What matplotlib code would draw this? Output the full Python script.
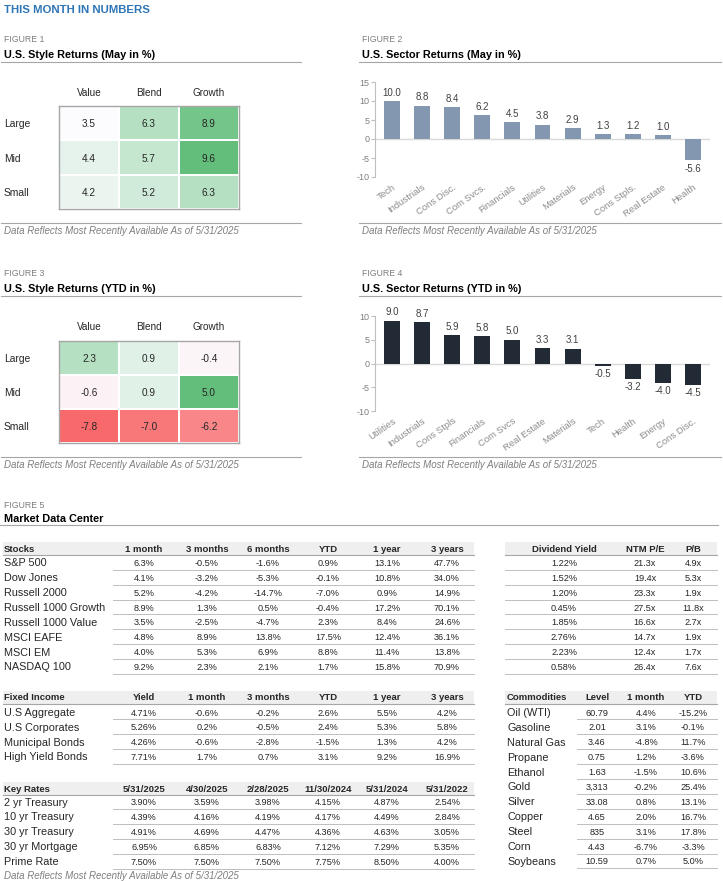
import matplotlib
matplotlib.use("Agg")
import matplotlib.pyplot as plt
from matplotlib.colors import LinearSegmentedColormap, Normalize, TwoSlopeNorm
from matplotlib.patches import Rectangle

plt.rcParams['font.family'] = ['Liberation Sans', 'DejaVu Sans']
plt.rcParams['axes.unicode_minus'] = False

W, H = 723, 881

# ---- data -------------------------------------------------------------
style_cols = ["Value", "Blend", "Growth"]
style_rows = ["Large", "Mid", "Small"]
style_may = [[3.5, 6.3, 8.9], [4.4, 5.7, 9.6], [4.2, 5.2, 6.3]]
style_ytd = [[2.3, 0.9, -0.4], [-0.6, 0.9, 5.0], [-7.8, -7.0, -6.2]]

sector_may_names = ["Tech", "Industrials", "Cons Disc.", "Com Svcs.", "Financials", "Utilities",
                    "Materials", "Energy", "Cons Stpls.", "Real Estate", "Health"]
sector_may = [10.0, 8.8, 8.4, 6.2, 4.5, 3.8, 2.9, 1.3, 1.2, 1.0, -5.6]
sector_ytd_names = ["Utilities", "Industrials", "Cons Stpls", "Financials", "Com Svcs", "Real Estate",
                    "Materials", "Tech", "Health", "Energy", "Cons Disc."]
sector_ytd = [9.0, 8.7, 5.9, 5.8, 5.0, 3.3, 3.1, -0.5, -3.2, -4.0, -4.5]

stock_names = ["S&P 500", "Dow Jones", "Russell 2000", "Russell 1000 Growth", "Russell 1000 Value",
               "MSCI EAFE", "MSCI EM", "NASDAQ 100"]
stock_cols = ["1 month", "3 months", "6 months", "YTD", "1 year", "3 years"]
stock_1m = [6.3, 4.1, 5.2, 8.9, 3.5, 4.8, 4.0, 9.2]
stock_3m = [-0.5, -3.2, -4.2, 1.3, -2.5, 8.9, 5.3, 2.3]
stock_6m = [-1.6, -5.3, -14.7, 0.5, -4.7, 13.8, 6.9, 2.1]
stock_ytd = [0.9, -0.1, -7.0, -0.4, 2.3, 17.5, 8.8, 1.7]
stock_1y = [13.1, 10.8, 0.9, 17.2, 8.4, 12.4, 11.4, 15.8]
stock_3y = [47.7, 34.0, 14.9, 70.1, 24.6, 36.1, 13.8, 70.9]
div_yield = [1.22, 1.52, 1.20, 0.45, 1.85, 2.76, 2.23, 0.58]
ntm_pe = [21.3, 19.4, 23.3, 27.5, 16.6, 14.7, 12.4, 26.4]
price_book = [4.9, 5.3, 1.9, 11.8, 2.7, 1.9, 1.7, 7.6]

fi_names = ["U.S Aggregate", "U.S Corporates", "Municipal Bonds", "High Yield Bonds"]
fi_cols = ["Yield", "1 month", "3 months", "YTD", "1 year", "3 years"]
fi_yield = [4.71, 5.26, 4.26, 7.71]
fi_1m = [-0.6, 0.2, -0.6, 1.7]
fi_3m = [-0.2, -0.5, -2.8, 0.7]
fi_ytd = [2.6, 2.4, -1.5, 3.1]
fi_1y = [5.5, 5.3, 1.3, 9.2]
fi_3y = [4.2, 5.8, 4.2, 16.9]

rate_names = ["2 yr Treasury", "10 yr Treasury", "30 yr Treasury", "30 yr Mortgage", "Prime Rate"]
rate_dates = ["5/31/2025", "4/30/2025", "2/28/2025", "11/30/2024", "5/31/2024", "5/31/2022"]
rates = [[3.90, 3.59, 3.98, 4.15, 4.87, 2.54],
         [4.39, 4.16, 4.19, 4.17, 4.49, 2.84],
         [4.91, 4.69, 4.47, 4.36, 4.63, 3.05],
         [6.95, 6.85, 6.83, 7.12, 7.29, 5.35],
         [7.50, 7.50, 7.50, 7.75, 8.50, 4.00]]

comm_names = ["Oil (WTI)", "Gasoline", "Natural Gas", "Propane", "Ethanol", "Gold", "Silver",
              "Copper", "Steel", "Corn", "Soybeans"]
comm_level = [60.79, 2.01, 3.46, 0.75, 1.63, 3313, 33.08, 4.65, 835, 4.43, 10.59]
comm_1m = [4.4, 3.1, -4.8, 1.2, -1.5, -0.2, 0.8, 2.0, 3.1, -6.7, 0.7]
comm_ytd = [-15.2, -0.1, 11.7, -3.6, 10.6, 25.4, 13.1, 16.7, 17.8, -3.3, 5.0]

FOOTNOTE = "Data Reflects Most Recently Available As of 5/31/2025"
GRAY = "#7F7F7F"
LINE = "#A6A6A6"
INK = "#262626"
VA = "center_baseline"


def box(x0, y0, x1, y1):
    """pixel box (top-left origin) -> figure fraction rect"""
    return [x0 / W, 1 - y1 / H, (x1 - x0) / W, (y1 - y0) / H]


def pct(v, nd=1):
    return f"{v:.{nd}f}%"


fig = plt.figure(figsize=(W / 100, H / 100), dpi=100)
bg = fig.add_axes([0, 0, 1, 1], zorder=0)
bg.set_xlim(0, W)
bg.set_ylim(H, 0)
bg.axis("off")

bg.text(4, 9, "THIS MONTH IN NUMBERS", color="#2E75B6", fontsize=8.2, fontweight="bold", va=VA)


def footnote(x, y):
    bg.text(x, y, FOOTNOTE, color=GRAY, fontsize=7, style="italic", va=VA)


def section(x0, x1, y_fig, label, title, y_line, y_foot_line=None):
    bg.text(x0 + 1, y_fig, label, color=GRAY, fontsize=6.3, va=VA)
    bg.text(x0 + 1, y_fig + 16, title, color="black", fontsize=7.8, fontweight="bold", va=VA)
    bg.plot([x0 - 2, x1], [y_line, y_line], color=LINE, lw=0.8)
    if y_foot_line is not None:
        bg.plot([x0 - 2, x1], [y_foot_line, y_foot_line], color=LINE, lw=0.8)
        footnote(x0 + 1, y_foot_line + 7)


# ---- style heatmaps ---------------------------------------------------
def heatmap(values, cmap, norm, top, bottom, col_y):
    ax = fig.add_axes(box(59, top, 239, bottom), zorder=2)
    ax.pcolormesh(values, cmap=cmap, norm=norm, edgecolors="white", linewidth=1.2)
    ax.set_xlim(0, 3)
    ax.set_ylim(3, 0)
    for i, row in enumerate(values):
        for j, v in enumerate(row):
            ax.text(j + 0.5, i + 0.5, f"{v:.1f}", ha="center", va=VA, fontsize=7.2, color=INK)
    ax.set_xticks([])
    ax.set_yticks([])
    for s in ax.spines.values():
        s.set_color(LINE)
        s.set_linewidth(1)
    cell_h = (bottom - top) / 3
    for j, c in enumerate(style_cols):
        bg.text(59 + 30 + 60 * j, col_y, c, ha="center", va=VA, fontsize=7.2, color=INK)
    for i, r in enumerate(style_rows):
        bg.text(4, top + cell_h * (i + 0.5), r, ha="left", va=VA, fontsize=7.4, color=INK)


section(3, 301, 38, "FIGURE 1", "U.S. Style Returns (May in %)", 62, 223)
flat = [v for r in style_may for v in r]
heatmap(style_may, LinearSegmentedColormap.from_list("wg", ["#FCFCFF", "#63BE7B"]),
        Normalize(min(flat), max(flat)), 106, 209, 92)

section(3, 301, 272, "FIGURE 3", "U.S. Style Returns (YTD in %)", 296, 457)
flat = [v for r in style_ytd for v in r]
heatmap(style_ytd, LinearSegmentedColormap.from_list("rwg", ["#F8696B", "#FCFCFF", "#63BE7B"]),
        TwoSlopeNorm(vcenter=0, vmin=min(flat), vmax=max(flat)), 341, 443, 326)


# ---- sector bar charts ------------------------------------------------
def sector_bars(names, values, color, top, bottom, ylim):
    ax = fig.add_axes(box(375, top, 710, bottom), zorder=2)
    ax.patch.set_alpha(0)
    xs = list(range(len(values)))
    ax.axhline(0, color="#D9D9D9", lw=1, zorder=1)
    ax.bar(xs, values, width=0.53, color=color, zorder=2)
    span = ylim[1] - ylim[0]
    for x, v in zip(xs, values):
        off = span * 0.035
        ax.text(x, v + off if v >= 0 else v - off, f"{v:.1f}", ha="center",
                va="bottom" if v >= 0 else "top", fontsize=7, color="#404040")
    ax.set_xlim(-0.57, len(values) - 0.43)
    ax.set_ylim(*ylim)
    ax.set_yticks(range(ylim[0], ylim[1] + 1, 5))
    ax.set_xticks(xs)
    ax.set_xticklabels(names, rotation=35, ha="right", rotation_mode="anchor")
    ax.tick_params(axis="x", length=0, pad=4, labelsize=6.8, labelcolor="#8C8C8C")
    ax.tick_params(axis="y", length=3, color="#BFBFBF", labelsize=6.5, labelcolor=GRAY, pad=1)
    for s in ["top", "right", "bottom"]:
        ax.spines[s].set_visible(False)
    ax.spines["left"].set_color("#BFBFBF")


section(361, 721, 38, "FIGURE 2", "U.S. Sector Returns (May in %)", 62, 223)
sector_bars(sector_may_names, sector_may, "#8497B0", 82, 177, (-10, 15))

section(361, 721, 272, "FIGURE 4", "U.S. Sector Returns (YTD in %)", 296, 457)
sector_bars(sector_ytd_names, sector_ytd, "#222A35", 316, 411, (-10, 10))

# ---- market data center -----------------------------------------------
bg.text(4, 504, "FIGURE 5", color=GRAY, fontsize=6.3, va=VA)
bg.text(4, 518, "Market Data Center", color="black", fontsize=7.8, fontweight="bold", va=VA)
bg.plot([0, 718], [525, 525], color=LINE, lw=0.8)


def table(x0, x1, sep_x0, head_y, first_y, pitch, title, cols, col_x, names, cells, label_x=None):
    label_x = x0 - 1 if label_x is None else label_x
    bg.add_patch(Rectangle((x0, head_y - 6.5), x1 - x0, 13, color="#EFEFEF", lw=0))
    bg.plot([x0, x1], [head_y + 6.5, head_y + 6.5], color=LINE, lw=0.8)
    if title:
        bg.text(label_x, head_y, title, fontsize=6.8, fontweight="bold", va=VA, color=INK)
    for c, cx in zip(cols, col_x):
        bg.text(cx, head_y, c, fontsize=6.8, fontweight="bold", ha="center", va=VA, color=INK)
    n = len(cells[0])
    for i in range(n):
        y = first_y + pitch * i
        if names:
            bg.text(label_x, y, names[i], fontsize=7.8, va=VA, color=INK)
        for col, cx in zip(cells, col_x):
            bg.text(cx, y, col[i], fontsize=6.6, ha="center", va=VA, color=INK)
        bg.plot([sep_x0, x1], [y + pitch / 2, y + pitch / 2], color="#BFBFBF", lw=0.7)


left_x = [144, 207, 268, 328, 387, 447]

table(3, 474, 113, 548, 562.5, 14.85, "Stocks", stock_cols, left_x, stock_names,
      [[pct(v) for v in c] for c in [stock_1m, stock_3m, stock_6m, stock_ytd, stock_1y, stock_3y]],
      label_x=4)
table(505, 717, 505, 548, 562.5, 14.85, None, ["Dividend Yield", "NTM P/E", "P/B"], [564, 645, 693], None,
      [[pct(v, 2) for v in div_yield], [f"{v:.1f}x" for v in ntm_pe], [f"{v:.1f}x" for v in price_book]])

table(3, 474, 113, 697, 712, 14.75, "Fixed Income", fi_cols, left_x, fi_names,
      [[pct(v, 2) for v in fi_yield]] +
      [[pct(v) for v in c] for c in [fi_1m, fi_3m, fi_ytd, fi_1y, fi_3y]], label_x=4)

table(3, 474, 113, 788, 801.5, 14.9, "Key Rates", rate_dates, left_x, rate_names,
      [[pct(r[j], 2) for r in rates] for j in range(len(rate_dates))], label_x=4)

table(505, 717, 577, 697, 712, 14.9, "Commodities", ["Level", "1 month", "YTD"], [597, 646, 693], comm_names,
      [[f"{v:,.0f}" if v >= 100 else f"{v:.2f}" for v in comm_level],
       [pct(v) for v in comm_1m], [pct(v) for v in comm_ytd]], label_x=507)

footnote(4, 875)

fig.savefig("out.png", dpi=100)
